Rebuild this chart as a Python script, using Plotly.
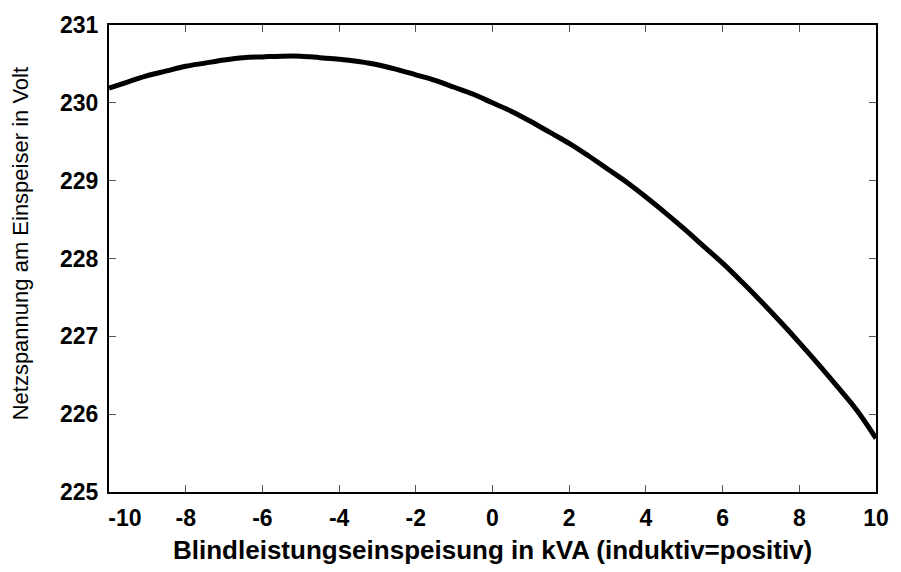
import plotly.graph_objects as go

# Blindleistungseinspeisung (kVA)
q_kva = [-10, -9.5, -9, -8.5, -8, -7.5, -7, -6.5, -6, -5.5, -5, -4.5, -4, -3.5, -3,
         -2.5, -2, -1.5, -1, -0.5, 0, 0.5, 1, 1.5, 2, 2.5, 3, 3.5, 4, 4.5, 5, 5.5,
         6, 6.5, 7, 7.5, 8, 8.5, 9, 9.5, 10]
# Netzspannung am Einspeiser (V)
u_volt = [230.19, 230.27, 230.35, 230.41, 230.47, 230.51, 230.55, 230.58, 230.59,
          230.60, 230.60, 230.58, 230.56, 230.53, 230.49, 230.43, 230.36, 230.29,
          230.20, 230.11, 230.00, 229.89, 229.76, 229.62, 229.48, 229.32, 229.15,
          228.98, 228.79, 228.59, 228.38, 228.16, 227.94, 227.70, 227.45, 227.19,
          226.92, 226.64, 226.35, 226.05, 225.69]

x_ticks = [-10, -8, -6, -4, -2, 0, 2, 4, 6, 8, 10]
x_ticktext = ["&nbsp;&nbsp;&nbsp;&nbsp;&nbsp;<b>-10</b>"] + [f"<b>{v}</b>" for v in x_ticks[1:]]
y_ticks = [225, 226, 227, 228, 229, 230, 231]

fig = go.Figure()
fig.add_trace(go.Scatter(
    x=q_kva, y=u_volt, mode="lines",
    line=dict(color="black", width=5, shape="spline"),
    showlegend=False, hoverinfo="skip"))

tickfont = dict(family="Liberation Sans, Arial, sans-serif", size=23, color="black")
axis_common = dict(
    showline=True, linecolor="black", linewidth=2, mirror="ticks",
    ticks="inside", ticklen=7, tickcolor="#555555", tickwidth=1,
    showgrid=False, zeroline=False, tickfont=tickfont,
)

fig.update_layout(
    width=901, height=572,
    margin=dict(l=109, r=18, t=18, b=80),
    paper_bgcolor="white", plot_bgcolor="white",
    xaxis=dict(range=[-10, 10], tickvals=x_ticks, ticktext=x_ticktext,
               ticklabelstandoff=4, ticklabeloverflow="allow", **axis_common),
    yaxis=dict(range=[225, 231], tickvals=y_ticks,
               ticktext=[f"<b>{v}</b>" for v in y_ticks],
               ticklabelstandoff=4, **axis_common),
    annotations=[
        dict(text="<b>Blindleistungseinspeisung in kVA (induktiv=positiv)</b>",
             xref="paper", yref="paper", x=0.5, y=-0.124,
             xanchor="center", yanchor="middle", showarrow=False,
             font=dict(family="Liberation Sans, Arial, sans-serif", size=26, color="black")),
        dict(text="Netzspannung am Einspeiser in Volt",
             xref="paper", yref="paper", x=-0.115, y=0.532, textangle=-90,
             xanchor="center", yanchor="middle", showarrow=False,
             font=dict(family="Liberation Sans, Arial, sans-serif",
                       size=22, color="black")),
    ],
)

fig.write_html(
    "out.html",
    config={"displayModeBar": False},
    post_script="document.body.style.margin='0px';document.body.style.overflow='hidden';",
)
